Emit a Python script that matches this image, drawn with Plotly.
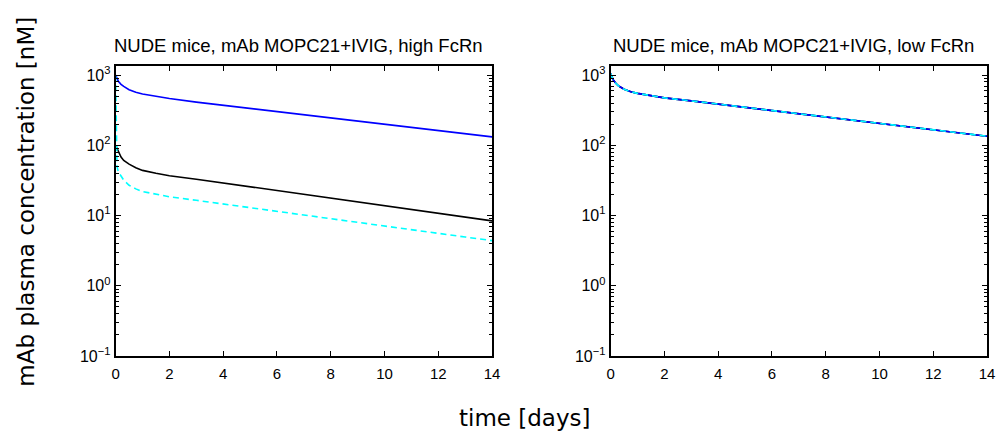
import plotly.graph_objects as go

# ---- data ----
t_high = [0, 0.1, 0.2, 0.3, 0.5, 0.75, 1, 1.5, 2, 3, 4, 5, 6, 7, 8, 9, 10, 11, 12, 13, 14]
blue_high = [1000, 820, 740, 690, 620, 570, 540, 500, 465, 413, 372, 336, 303, 273, 246, 222, 200, 180, 163, 147, 132]
black_high = [100, 80, 68, 61, 54, 48, 44, 40, 37, 33, 29.2, 25.8, 22.8, 20.1, 17.8, 15.7, 13.9, 12.3, 10.8, 9.5, 8.4]

t_cyan_high = [0, 0.01, 0.02, 0.05, 0.1, 0.2, 0.3, 0.5, 0.75, 1, 1.5, 2, 3, 4, 5, 6, 7, 8, 9, 10, 11, 12, 13, 14]
cyan_high = [1000, 300, 100, 50, 42, 36, 32, 27, 24, 22, 20, 18.5, 16.5, 14.6, 12.9, 11.5, 10.2, 9.0, 8.0, 7.1, 6.3, 5.6, 4.95, 4.4]

t_low = [0, 0.1, 0.2, 0.3, 0.5, 0.75, 1, 1.5, 2, 3, 4, 5, 6, 7, 8, 9, 10, 11, 12, 13, 14]
blue_low = [1050, 850, 760, 700, 630, 580, 550, 505, 475, 430, 387, 348, 314, 282, 254, 229, 206, 185, 167, 150, 135]
black_low = [1050, 850, 760, 700, 630, 580, 550, 505, 475, 430, 387, 348, 314, 282, 254, 229, 206, 185, 167, 150, 135]
cyan_low = [1050, 850, 760, 700, 630, 580, 550, 505, 475, 430, 387, 348, 314, 282, 254, 229, 206, 185, 167, 150, 135]

x_ticks = [0, 2, 4, 6, 8, 10, 12, 14]
y_ticks = [0.1, 1, 10, 100, 1000]
y_ticktext = ["10<sup>\u22121</sup>", "10<sup>0</sup>", "10<sup>1</sup>", "10<sup>2</sup>", "10<sup>3</sup>"]
y_minor = [m * 10 ** e for e in (-1, 0, 1, 2) for m in range(2, 10)]

titles = ["NUDE mice, mAb MOPC21+IVIG, high FcRn", "NUDE mice, mAb MOPC21+IVIG, low FcRn"]

W, H = 1003, 445
FONT = "Liberation Sans"
LABEL_FONT = "DejaVu Sans"

fig = go.Figure()

def add(x, y, color, dash, xa, ya):
    fig.add_trace(go.Scatter(x=x, y=y, mode="lines", xaxis=xa, yaxis=ya,
                             line=dict(color=color, width=1.6, dash=dash),
                             showlegend=False, hoverinfo="skip"))

add(t_high, blue_high, "#0000FF", "solid", "x", "y")
add(t_high, black_high, "#000000", "solid", "x", "y")
add(t_cyan_high, cyan_high, "#00FFFF", "6px,4px", "x", "y")

add(t_low, black_low, "#000000", "solid", "x2", "y2")
add(t_low, blue_low, "#0000FF", "solid", "x2", "y2")
add(t_low, cyan_low, "#00FFFF", "6px,4px", "x2", "y2")

ydom = [(H - 363) / H, (H - 66) / H]

def xaxis(dom, anchor):
    return dict(domain=dom, anchor=anchor, range=[0, 14], tickvals=x_ticks,
                ticks="inside", ticklen=5, tickwidth=1, tickcolor="black",
                showline=True, linecolor="black", linewidth=2, mirror="ticks",
                showgrid=False, zeroline=False, ticklabelstandoff=3,
                tickfont=dict(family=FONT, size=15, color="black"))

def yaxis(anchor):
    return dict(domain=ydom, anchor=anchor, type="log", range=[-1, 3.125],
                tickvals=y_ticks, ticktext=y_ticktext,
                ticks="inside", ticklen=5, tickwidth=1, tickcolor="black",
                minor=dict(tickvals=y_minor, ticks="inside", ticklen=3, tickcolor="black", tickwidth=1),
                showline=True, linecolor="black", linewidth=2, mirror="ticks",
                showgrid=False, zeroline=False,
                tickfont=dict(family=FONT, size=16, color="black"))

ann = []
for i, (x0, x1) in enumerate([(113, 494), (614, 995)]):
    ann.append(dict(text=titles[i], x=(x0 + x1) / 2 / W - 0.005, y=(H - 45) / H,
                    xref="paper", yref="paper", showarrow=False,
                    font=dict(family=FONT, size=18.5, color="black"),
                    xanchor="center", yanchor="middle"))
ann.append(dict(text="mAb plasma concentration [nM]", x=22 / W, y=(H - 205) / H,
                xref="paper", yref="paper", showarrow=False, textangle=-90,
                font=dict(family=LABEL_FONT, size=23, color="black"),
                xanchor="center", yanchor="middle"))
ann.append(dict(text="time [days]", x=527 / W, y=(H - 427) / H,
                xref="paper", yref="paper", showarrow=False,
                font=dict(family=LABEL_FONT, size=23, color="black"),
                xanchor="center", yanchor="middle"))

fig.update_layout(
    width=W, height=H,
    margin=dict(l=0, r=0, t=0, b=0),
    paper_bgcolor="white", plot_bgcolor="white",
    xaxis=xaxis([113 / W, 494 / W], "y"),
    yaxis=yaxis("x"),
    xaxis2=xaxis([614 / W, 995 / W], "y2"),
    yaxis2=yaxis("x2"),
    annotations=ann,
)

fig.write_html("out.html")
